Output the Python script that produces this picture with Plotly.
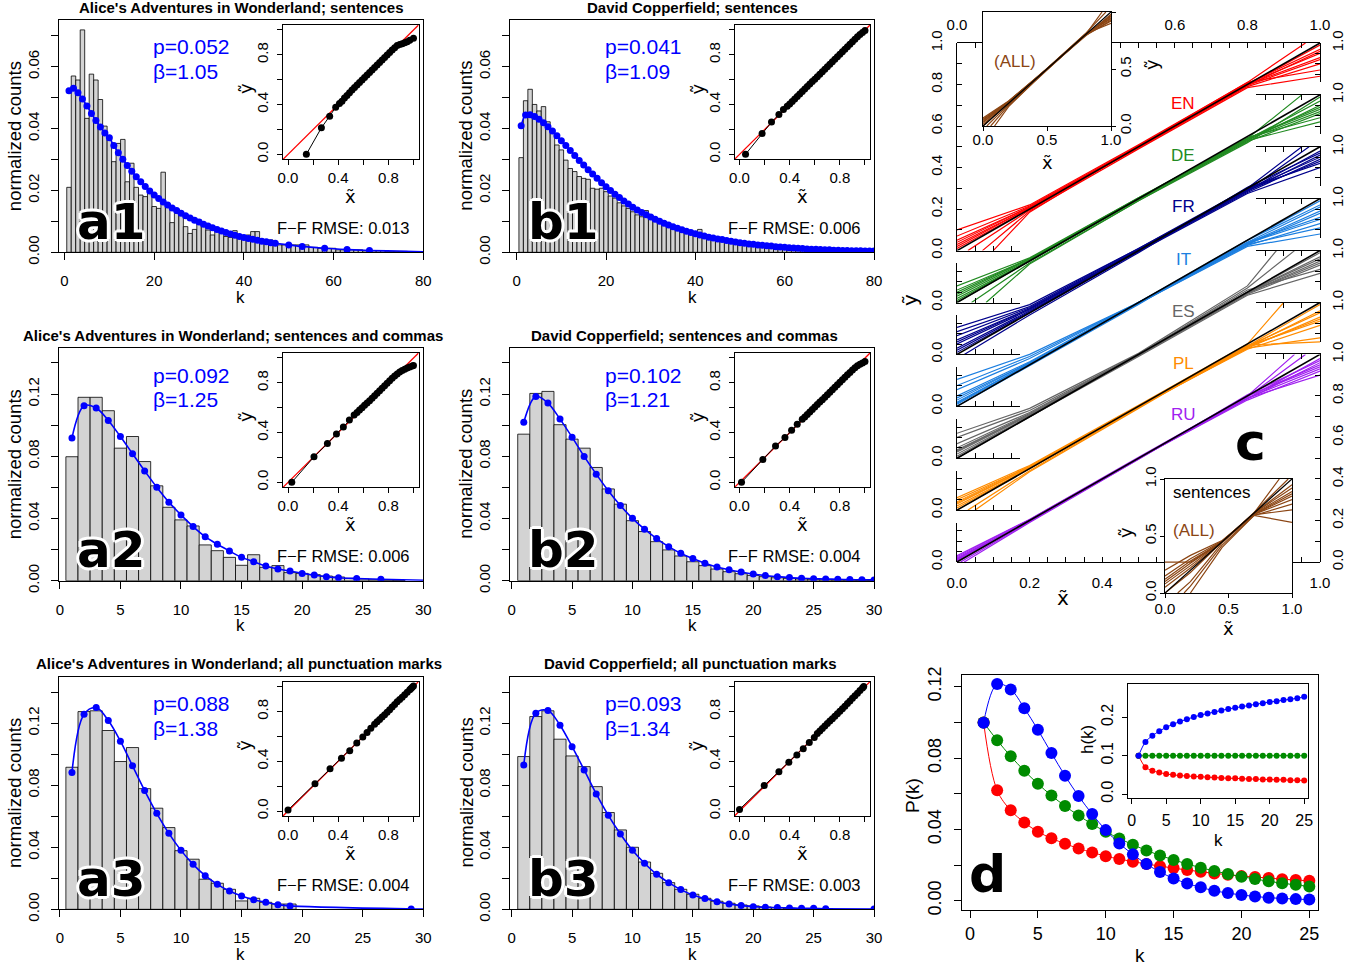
import plotly.graph_objects as go

W, H = 1365, 968
SANS = "Liberation Sans, Arial, Helvetica, sans-serif"
DEJAVU = "DejaVu Sans, sans-serif"

# ====================== DATA ======================
# ---- a1: Alice, sentences ----
A1_K = list(range(1, 81))
A1_COUNTS = [0.021, 0.057, 0.0557, 0.0719, 0.0433, 0.0576, 0.0557, 0.0494, 0.0408, 0.0363,
             0.0293, 0.0352, 0.0365, 0.0228, 0.0288, 0.021, 0.0185, 0.018, 0.019, 0.0148,
             0.0142, 0.0259, 0.0148, 0.0096, 0.0126, 0.0121, 0.0083, 0.0061, 0.0074, 0.0105,
             0.0092, 0.0072, 0.0056, 0.0074, 0.0061, 0.0051, 0.0048, 0.007, 0.0051, 0.0045,
             0.0056, 0.0067, 0.0067, 0.0042, 0.0029, 0.004, 0.0032, 0.0024, 0.0024, 0.0024,
             0.0024, 0.0024, 0.0024, 0.0024, 0.0016, 0.0016, 0.0013, 0.0013, 0.0013, 0.0013,
             0.0008, 0.0008, 0.0008, 0.0008, 0.0008, 0.0008, 0.0005, 0.0005, 0.0005, 0.0005,
             0.0005, 0.0003, 0.0003, 0.0003, 0.0003, 0.0003, 0.0002, 0.0002, 0.0002, 0.0002]
A1_FIT_K = list(range(1, 48)) + [50, 53, 58, 63, 68]
A1_FIT_P = [0.0522, 0.0530, 0.0516, 0.0496, 0.0473, 0.0449, 0.0426, 0.0405, 0.0386, 0.0370,
            0.0345, 0.0322, 0.0301, 0.0281, 0.0262, 0.0244, 0.0228, 0.0213, 0.0198, 0.0185,
            0.0174, 0.0163, 0.0153, 0.0143, 0.0135, 0.0126, 0.0118, 0.0111, 0.0104, 0.0098,
            0.0091, 0.0085, 0.0079, 0.0074, 0.0069, 0.0064, 0.0059, 0.0055, 0.0051, 0.0048,
            0.0045, 0.0042, 0.0039, 0.0036, 0.0034, 0.0031, 0.0029,
            0.0024, 0.0019, 0.0013, 0.0009, 0.0006]
A1_TAIL_K = [74, 80]
A1_TAIL_P = [0.0004, 0.0002]
A1_QQ_X = [0.146, 0.266, 0.332, 0.38, 0.41, 0.43, 0.45, 0.47, 0.49, 0.51, 0.53, 0.55, 0.57, 0.59,
           0.61, 0.63, 0.65, 0.67, 0.69, 0.71, 0.73, 0.75, 0.77, 0.79, 0.81, 0.83, 0.85, 0.87,
           0.89, 0.91, 0.93, 0.95, 0.97, 1.0]
A1_QQ_Y = [0.0, 0.213, 0.307, 0.379, 0.408, 0.427, 0.452, 0.474, 0.496, 0.517, 0.537, 0.557,
           0.578, 0.598, 0.618, 0.638, 0.658, 0.678, 0.698, 0.718, 0.738, 0.758, 0.778, 0.798,
           0.818, 0.838, 0.857, 0.875, 0.884, 0.89, 0.897, 0.906, 0.917, 0.933]

# ---- b1: Copperfield, sentences ----
B1_K = list(range(1, 81))
B1_COUNTS = [0.0306, 0.049, 0.0527, 0.0478, 0.0457, 0.0471, 0.0422, 0.0385, 0.0347, 0.0331,
             0.0298, 0.0271, 0.0261, 0.0245, 0.0239, 0.0236, 0.0207, 0.0204, 0.0207, 0.0196,
             0.0182, 0.0175, 0.016, 0.015, 0.0142, 0.0131, 0.0121, 0.0115, 0.0135, 0.0107,
             0.01, 0.0095, 0.009, 0.0085, 0.0082, 0.0077, 0.0072, 0.0068, 0.0064, 0.0062,
             0.0074, 0.0058, 0.0052, 0.0048, 0.0046, 0.0043, 0.004, 0.0037, 0.0034, 0.0032,
             0.003, 0.0028, 0.0027, 0.0025, 0.0023, 0.0022, 0.002, 0.0019, 0.0017, 0.0016,
             0.0015, 0.0014, 0.0013, 0.0012, 0.0011, 0.0011, 0.001, 0.0009, 0.0009, 0.0008,
             0.0007, 0.0007, 0.0006, 0.0006, 0.0005, 0.0005, 0.0004, 0.0004, 0.0004, 0.0003]
B1_FIT_K = list(range(1, 81))
B1_FIT_P = [0.0409, 0.0444, 0.0445, 0.0439, 0.0430, 0.0419, 0.0406, 0.0392, 0.0377, 0.0361,
            0.0345, 0.0329, 0.0313, 0.0297, 0.0282, 0.0267, 0.0253, 0.0239, 0.0225, 0.0212,
            0.0200, 0.0188, 0.0177, 0.0166, 0.0156, 0.0146, 0.0137, 0.0129, 0.0121, 0.0114,
            0.0107, 0.0100, 0.0094, 0.0088, 0.0083, 0.0078, 0.0073, 0.0068, 0.0064, 0.0060,
            0.0056, 0.0053, 0.0049, 0.0046, 0.0043, 0.0041, 0.0038, 0.0036, 0.0033, 0.0031,
            0.0029, 0.0027, 0.0026, 0.0024, 0.0023, 0.0021, 0.0020, 0.0018, 0.0017, 0.0016,
            0.0015, 0.0014, 0.0013, 0.0012, 0.0011, 0.0010, 0.0010, 0.0009, 0.0008, 0.0008,
            0.0007, 0.0007, 0.0006, 0.0006, 0.0005, 0.0005, 0.0005, 0.0004, 0.0004, 0.0004]
B1_TAIL_K = []
B1_TAIL_P = []
B1_QQ_X = [0.048, 0.18, 0.255, 0.314, 0.35, 0.38, 0.40, 0.42, 0.44, 0.46, 0.48, 0.50, 0.52, 0.54,
           0.56, 0.58, 0.60, 0.62, 0.64, 0.66, 0.68, 0.70, 0.72, 0.74, 0.76, 0.78, 0.80, 0.82,
           0.84, 0.86, 0.88, 0.90, 0.92, 0.94, 0.96, 0.98, 1.0]
B1_QQ_Y = [0.0, 0.168, 0.259, 0.32, 0.36, 0.387, 0.405, 0.425, 0.445, 0.465, 0.485, 0.505, 0.525,
           0.545, 0.565, 0.585, 0.604, 0.624, 0.644, 0.664, 0.684, 0.704, 0.724, 0.744, 0.764,
           0.784, 0.804, 0.824, 0.845, 0.865, 0.885, 0.905, 0.925, 0.945, 0.963, 0.98, 0.995]

# ---- a2: Alice, sentences and commas ----
A2_K = list(range(1, 29))
A2_COUNTS = [0.0797, 0.1179, 0.1179, 0.1093, 0.0852, 0.0927, 0.0766, 0.061, 0.0472, 0.0391,
             0.0352, 0.023, 0.0193, 0.015, 0.0099, 0.0167, 0.0086, 0.0097, 0.0052, 0.0047,
             0.0039, 0.003, 0.0024, 0.0015, 0.0011, 0.0006, 0.0004, 0.0002]
A2_FIT_K = list(range(1, 24)) + [24.5, 26.5]
A2_FIT_P = [0.0917, 0.1125, 0.111, 0.103, 0.0927, 0.0816, 0.0706, 0.0601, 0.0505, 0.0423,
            0.0348, 0.0283, 0.0234, 0.0191, 0.015, 0.0122, 0.0094, 0.0075, 0.0062, 0.0047,
            0.0036, 0.0026, 0.0019, 0.0014, 0.0009]
A2_TAIL_K = [30]
A2_TAIL_P = [0.0003]
A2_QQ_X = [0.03, 0.207, 0.314, 0.386, 0.441, 0.489, 0.527, 0.55, 0.57, 0.59, 0.61, 0.63, 0.65,
           0.67, 0.69, 0.71, 0.73, 0.75, 0.77, 0.79, 0.81, 0.83, 0.85, 0.87, 0.89, 0.91, 0.93,
           0.95, 0.97, 0.99, 1.0]
A2_QQ_Y = [0.0, 0.205, 0.312, 0.389, 0.445, 0.501, 0.541, 0.562, 0.581, 0.6, 0.619, 0.638, 0.657,
           0.677, 0.697, 0.717, 0.737, 0.757, 0.777, 0.797, 0.817, 0.837, 0.856, 0.872, 0.887,
           0.9, 0.91, 0.92, 0.928, 0.935, 0.939]

# ---- b2: Copperfield, sentences and commas ----
B2_K = list(range(1, 31))
B2_COUNTS = [0.0942, 0.1204, 0.1217, 0.1003, 0.091, 0.0852, 0.0728, 0.059, 0.0492, 0.0386,
             0.0316, 0.0251, 0.0198, 0.0159, 0.0122, 0.0097, 0.0075, 0.0058, 0.0045, 0.0034,
             0.0026, 0.0019, 0.0015, 0.0011, 0.0009, 0.0006, 0.0004, 0.0003, 0.0002, 0.0001]
B2_FIT_K = list(range(1, 31))
B2_FIT_P = [0.1018, 0.1185, 0.1142, 0.1039, 0.0923, 0.0799, 0.0685, 0.0578, 0.0483, 0.0401,
            0.0331, 0.0271, 0.0219, 0.0176, 0.0142, 0.0112, 0.0088, 0.0071, 0.0056, 0.0043,
            0.0033, 0.0026, 0.002, 0.0016, 0.0013, 0.0011, 0.0009, 0.0007, 0.0006, 0.0005]
B2_TAIL_K = []
B2_TAIL_P = []
B2_QQ_X = [0.016, 0.186, 0.287, 0.362, 0.415, 0.46, 0.5, 0.52, 0.54, 0.56, 0.58, 0.60, 0.62, 0.64,
           0.66, 0.68, 0.70, 0.72, 0.74, 0.76, 0.78, 0.80, 0.82, 0.84, 0.86, 0.88, 0.90, 0.92,
           0.94, 0.96, 0.98, 1.0]
B2_QQ_Y = [0.0, 0.184, 0.293, 0.36, 0.419, 0.467, 0.507, 0.525, 0.545, 0.565, 0.585, 0.605,
           0.625, 0.645, 0.665, 0.685, 0.705, 0.725, 0.745, 0.765, 0.785, 0.805, 0.825, 0.845,
           0.865, 0.884, 0.903, 0.921, 0.938, 0.95, 0.96, 0.971]

# ---- a3: Alice, all punctuation marks ----
A3_K = list(range(1, 20))
A3_COUNTS = [0.0916, 0.1275, 0.128, 0.1153, 0.0953, 0.1043, 0.0778, 0.0652, 0.0527, 0.0378,
             0.0323, 0.0194, 0.0168, 0.0129, 0.0054, 0.0071, 0.0045, 0.0034, 0.0034]
A3_FIT_K = list(range(1, 20)) + [29]
A3_FIT_P = [0.0882, 0.1258, 0.1301, 0.1217, 0.1084, 0.0925, 0.0766, 0.0619, 0.049, 0.038,
            0.029, 0.0217, 0.0161, 0.0118, 0.0086, 0.0062, 0.0045, 0.003, 0.0022, 0.0002]
A3_TAIL_K = [30]
A3_TAIL_P = [0.0001]
A3_QQ_X = [0.0, 0.215, 0.335, 0.426, 0.492, 0.548, 0.596, 0.63, 0.66, 0.69, 0.71, 0.73, 0.75,
           0.77, 0.79, 0.81, 0.83, 0.85, 0.87, 0.89, 0.91, 0.93, 0.95, 0.97, 0.98, 0.99, 1.0]
A3_QQ_Y = [0.008, 0.219, 0.339, 0.424, 0.485, 0.547, 0.595, 0.632, 0.665, 0.697, 0.718, 0.737,
           0.756, 0.775, 0.794, 0.815, 0.836, 0.857, 0.878, 0.897, 0.915, 0.935, 0.955, 0.975,
           0.985, 0.995, 1.005]

# ---- b3: Copperfield, all punctuation marks ----
B3_K = list(range(1, 26))
B3_COUNTS = [0.0985, 0.1243, 0.128, 0.1097, 0.0989, 0.092, 0.0791, 0.0624, 0.0512, 0.04,
             0.0305, 0.0232, 0.0172, 0.0129, 0.0097, 0.0071, 0.0052, 0.0039, 0.0028, 0.0022,
             0.0015, 0.0011, 0.0006, 0.0004, 0.0002]
B3_FIT_K = list(range(1, 27)) + [30]
B3_FIT_P = [0.0931, 0.1265, 0.1282, 0.1187, 0.1049, 0.0899, 0.0744, 0.0606, 0.0486, 0.0381,
            0.0297, 0.0226, 0.0172, 0.0127, 0.0092, 0.0069, 0.0049, 0.0034, 0.0024, 0.0017,
            0.0013, 0.0011, 0.0009, 0.0006, 0.0006, 0.0004, 0.0002]
B3_TAIL_K = []
B3_TAIL_P = []
B3_QQ_X = [0.0, 0.197, 0.314, 0.393, 0.457, 0.508, 0.556, 0.596, 0.62, 0.64, 0.66, 0.68, 0.70,
           0.72, 0.74, 0.76, 0.78, 0.80, 0.82, 0.84, 0.86, 0.88, 0.90, 0.92, 0.94, 0.96, 0.98, 0.99]
B3_QQ_Y = [0.013, 0.205, 0.315, 0.392, 0.451, 0.501, 0.552, 0.592, 0.623, 0.643, 0.663, 0.683,
           0.703, 0.723, 0.743, 0.763, 0.783, 0.803, 0.823, 0.843, 0.864, 0.885, 0.906, 0.927,
           0.948, 0.969, 0.99, 1.002]

QQ_REF = [-0.05, 1.05]

# ---- panel c: F-F curves per language (start point, y at MID_X, end point) ----
MID_X = [0.2, 0.5, 0.8]
LANG_NAMES = ["EN", "DE", "FR", "IT", "ES", "PL", "RU"]
LANG_COLORS = ["#FF0000", "#228B22", "#00008B", "#1C7FE0", "#666666", "#FF8C00", "#A020F0"]
EN_START = [(0, 0.10), (0, 0.07), (0, 0.05), (0, 0.03), (0, 0.01), (0.03, 0), (0.07, 0), (0.10, 0),
            (0, 0.04), (0, 0.02)]
EN_MID = [(0.22, 0.51, 0.81), (0.215, 0.505, 0.80), (0.21, 0.50, 0.795), (0.205, 0.50, 0.80),
          (0.20, 0.495, 0.79), (0.195, 0.50, 0.805), (0.19, 0.49, 0.785), (0.185, 0.505, 0.81),
          (0.21, 0.505, 0.805), (0.205, 0.495, 0.795)]
EN_END = [(0.96, 1.0), (1, 0.99), (1, 0.96), (1, 0.93), (1, 0.90), (1, 0.97), (1, 0.84), (1, 0.87),
          (1, 0.95), (1, 0.92)]
DE_START = [(0, 0.08), (0, 0.06), (0, 0.05), (0, 0.03), (0, 0.02), (0, 0.01), (0.04, 0), (0.08, 0),
            (0, 0.04), (0, 0.0)]
DE_MID = [(0.215, 0.505, 0.79), (0.21, 0.50, 0.785), (0.21, 0.50, 0.78), (0.205, 0.50, 0.79),
          (0.20, 0.495, 0.775), (0.20, 0.50, 0.795), (0.19, 0.49, 0.78), (0.185, 0.49, 0.77),
          (0.21, 0.505, 0.785), (0.20, 0.50, 0.79)]
DE_END = [(0.95, 1.0), (1, 0.97), (1, 0.95), (1, 0.93), (1, 0.91), (1, 0.89), (1, 0.87), (1, 0.99),
          (1, 0.92), (1, 0.94)]
FR_START = [(0, 0.13), (0, 0.11), (0, 0.09), (0, 0.07), (0, 0.05), (0, 0.03), (0, 0.01), (0.02, 0),
            (0, 0.06), (0, 0.02)]
FR_MID = [(0.24, 0.51, 0.80), (0.23, 0.51, 0.79), (0.225, 0.505, 0.79), (0.22, 0.50, 0.785),
          (0.215, 0.50, 0.78), (0.21, 0.495, 0.80), (0.20, 0.495, 0.775), (0.19, 0.49, 0.805),
          (0.22, 0.505, 0.795), (0.205, 0.50, 0.79)]
FR_END = [(0.95, 1.0), (0.97, 1.0), (1, 0.98), (1, 0.96), (1, 0.94), (1, 0.92), (1, 0.90), (1, 0.97),
          (1, 0.95), (1, 0.93)]
IT_START = [(0, 0.13), (0, 0.10), (0, 0.08), (0, 0.05), (0, 0.03), (0, 0.02), (0, 0.01), (0, 0.0),
            (0, 0.04), (0, 0.015)]
IT_MID = [(0.25, 0.50, 0.80), (0.24, 0.50, 0.79), (0.23, 0.50, 0.78), (0.215, 0.50, 0.785),
          (0.21, 0.495, 0.775), (0.205, 0.50, 0.78), (0.20, 0.495, 0.77), (0.195, 0.49, 0.80),
          (0.21, 0.50, 0.79), (0.205, 0.495, 0.785)]
IT_END = [(1, 0.99), (1, 0.96), (1, 0.93), (1, 0.90), (1, 0.88), (1, 0.86), (1, 0.83), (1, 0.97),
          (1, 0.91), (1, 0.94)]
ES_START = [(0, 0.12), (0, 0.10), (0, 0.07), (0, 0.05), (0, 0.04), (0, 0.03), (0, 0.02), (0, 0.01),
            (0, 0.035), (0, 0.0)]
ES_MID = [(0.24, 0.505, 0.83), (0.23, 0.50, 0.82), (0.22, 0.50, 0.80), (0.215, 0.50, 0.80),
          (0.21, 0.495, 0.795), (0.205, 0.495, 0.79), (0.20, 0.50, 0.81), (0.20, 0.49, 0.785),
          (0.21, 0.50, 0.80), (0.20, 0.50, 0.795)]
ES_END = [(0.88, 1.0), (0.93, 1.0), (1, 0.99), (1, 0.97), (1, 0.95), (1, 0.93), (1, 0.91), (1, 0.89),
          (1, 0.96), (1, 0.94)]
PL_START = [(0, 0.06), (0, 0.05), (0, 0.04), (0, 0.03), (0, 0.02), (0, 0.01), (0.03, 0), (0.05, 0),
            (0, 0.035), (0, 0.0)]
PL_MID = [(0.215, 0.505, 0.80), (0.21, 0.50, 0.79), (0.21, 0.50, 0.785), (0.205, 0.50, 0.78),
          (0.20, 0.495, 0.79), (0.20, 0.50, 0.775), (0.19, 0.495, 0.78), (0.185, 0.49, 0.795),
          (0.205, 0.50, 0.79), (0.20, 0.50, 0.785)]
PL_END = [(0.90, 1.0), (1, 0.99), (1, 0.96), (1, 0.93), (1, 0.91), (1, 0.89), (1, 0.83), (1, 0.81),
          (1, 0.95), (1, 0.92)]
RU_START = [(0, 0.03), (0, 0.02), (0, 0.015), (0, 0.01), (0, 0.005), (0, 0.0), (0.01, 0), (0.02, 0),
            (0, 0.025), (0, 0.012)]
RU_MID = [(0.205, 0.50, 0.80), (0.20, 0.50, 0.795), (0.20, 0.50, 0.79), (0.20, 0.50, 0.785),
          (0.195, 0.495, 0.80), (0.20, 0.50, 0.78), (0.195, 0.50, 0.79), (0.19, 0.495, 0.805),
          (0.205, 0.505, 0.80), (0.20, 0.50, 0.79)]
RU_END = [(0.93, 1.0), (0.96, 1.0), (1, 0.98), (1, 0.96), (1, 0.94), (1, 0.92), (1, 0.90), (1, 0.97),
          (1, 0.95), (1, 0.93)]

ALL_COLOR = "#8B4513"
ALL_START = [(0, 0.07), (0, 0.05), (0, 0.03), (0, 0.015), (0, 0.0), (0.03, 0), (0.06, 0), (0.09, 0),
             (0, 0.06), (0, 0.04)]
ALL_MID = [(0.22, 0.50, 0.80), (0.215, 0.505, 0.81), (0.21, 0.50, 0.79), (0.205, 0.495, 0.80),
           (0.20, 0.50, 0.805), (0.19, 0.495, 0.795), (0.18, 0.49, 0.80), (0.17, 0.50, 0.81),
           (0.215, 0.50, 0.80), (0.21, 0.50, 0.795)]
ALL_END = [(0.93, 1.0), (0.96, 1.0), (1, 0.98), (1, 0.96), (1, 0.94), (1, 0.92), (1, 0.97), (1, 0.90),
           (1, 0.95), (1, 0.93)]
SENT_MID_X = [0.2, 0.45, 0.7]
SENT_START = [(0, 0.27), (0, 0.2), (0, 0.15), (0, 0.1), (0, 0.05), (0, 0.0), (0.1, 0), (0.15, 0), (0.2, 0),
              (0, 0.12), (0, 0.08)]
SENT_MID = [(0.27, 0.45, 0.685), (0.33, 0.46, 0.69), (0.30, 0.455, 0.70), (0.26, 0.45, 0.70),
            (0.22, 0.445, 0.705), (0.18, 0.45, 0.70), (0.10, 0.44, 0.69), (0.06, 0.42, 0.68), (0.0, 0.40, 0.68),
            (0.28, 0.45, 0.69), (0.24, 0.45, 0.695)]
SENT_END = [(1, 0.73), (1, 0.87), (1, 0.92), (1, 0.95), (0.97, 1.0), (0.9, 1.0), (1, 0.82), (1, 0.78), (1, 0.62),
            (1, 0.85), (1, 0.89)]

# ---- panel d ----
D_K = list(range(1, 26))
D_BLUE = [0.0998, 0.1215, 0.1185, 0.1080, 0.0959, 0.0828, 0.0701, 0.0587, 0.0486, 0.0396,
          0.0321, 0.0260, 0.0206, 0.0161, 0.0125, 0.0097, 0.0075, 0.0056, 0.0043, 0.0032,
          0.0024, 0.0017, 0.0013, 0.0009, 0.0007]
D_GREEN = [0.1, 0.09, 0.081, 0.0729, 0.0656, 0.059, 0.0531, 0.0478, 0.043, 0.0387,
           0.0349, 0.0314, 0.0282, 0.0254, 0.0229, 0.0206, 0.0185, 0.0167, 0.015, 0.0135,
           0.0122, 0.0109, 0.0098, 0.0089, 0.008]
D_RED = [0.1, 0.0619, 0.0507, 0.0439, 0.0387, 0.035, 0.032, 0.0293, 0.0271, 0.025,
         0.0234, 0.0219, 0.0206, 0.0194, 0.0183, 0.0172, 0.0163, 0.0153, 0.0146, 0.0138,
         0.0133, 0.0127, 0.0121, 0.0116, 0.0112]
D_H_BLUE = [0.1, 0.136, 0.152, 0.164, 0.174, 0.182, 0.189, 0.195, 0.201, 0.206, 0.21, 0.214,
            0.218, 0.222, 0.225, 0.228, 0.231, 0.234, 0.237, 0.24, 0.242, 0.245, 0.247, 0.25, 0.254]
D_H_GREEN = [0.1] * 25
D_H_RED = [0.1, 0.070, 0.061, 0.056, 0.052, 0.050, 0.048, 0.047, 0.046, 0.045, 0.044, 0.043,
           0.042, 0.041, 0.041, 0.040, 0.039, 0.039, 0.038, 0.038, 0.037, 0.037, 0.036, 0.036, 0.035]

# ====================== helpers ======================
fig = go.Figure()
LAYOUT = {}
ANN = []
_n = [0]


def fx(p):
    return p / W


def fy(p):
    return 1 - p / H


def axis(rng, **kw):
    d = dict(range=rng, showgrid=False, zeroline=False, fixedrange=True, showline=True,
             linecolor="black", linewidth=1, ticks="outside", ticklen=6, tickwidth=1,
             tickcolor="black", tickfont=dict(family=SANS, size=15, color="black"),
             tickmode="array", automargin=False)
    d.update(kw)
    return d


def hidden(rng):
    return dict(range=rng, visible=False, fixedrange=True, showgrid=False, zeroline=False,
                automargin=False)


def subplot(x0, x1, y0, y1, xa, ya, axes_only=False):
    _n[0] += 1
    s = "" if _n[0] == 1 else str(_n[0])
    xa = dict(xa)
    ya = dict(ya)
    xa.update(domain=[fx(x0), fx(x1)], anchor="y" + s)
    ya.update(domain=[fy(y1), fy(y0)], anchor="x" + s)
    LAYOUT["xaxis" + s] = xa
    LAYOUT["yaxis" + s] = ya
    if axes_only:
        # empty trace so that plotly draws this axes-only frame
        fig.add_trace(go.Scatter(x=[None], y=[None], xaxis="x" + s, yaxis="y" + s, mode="lines",
                                 showlegend=False, hoverinfo="skip"))
    return "x" + s, "y" + s


def text(x, y, s, size=15, color="black", xanchor="center", yanchor="middle", angle=0,
         family=SANS, shadow=None):
    f = dict(family=family, size=size, color=color)
    if shadow:
        f["shadow"] = shadow
    ANN.append(dict(x=fx(x), y=fy(y), xref="paper", yref="paper", text=s, showarrow=False,
                    xanchor=xanchor, yanchor=yanchor, textangle=angle, font=f))


def line(xr, yr, xs, ys, color, width=1.0, mode="lines", size=6, shape="linear"):
    fig.add_trace(go.Scatter(x=xs, y=ys, xaxis=xr, yaxis=yr, mode=mode,
                             line=dict(color=color, width=width, shape=shape),
                             marker=dict(color=color, size=size),
                             showlegend=False, hoverinfo="skip", cliponaxis=True))


HALO = ", ".join(f"{a}px {b}px 0px white" for a, b in
                 [(2, 0), (-2, 0), (0, 2), (0, -2), (2, 2), (-2, -2), (2, -2), (-2, 2),
                  (3, 0), (-3, 0), (0, 3), (0, -3)])

# ====================== histogram panels ======================
Y1_TV = [0, 0.01, 0.02, 0.03, 0.04, 0.05, 0.06, 0.07]
Y1_TT = ["0.00", "", "0.02", "", "0.04", "", "0.06", ""]
Y2_TV = [0, 0.02, 0.04, 0.06, 0.08, 0.10, 0.12, 0.14]
Y2_TT = ["0.00", "", "0.04", "", "0.08", "", "0.12", ""]
X1_TV = [0, 20, 40, 60, 80]
X2_TV = [0, 5, 10, 15, 20, 25, 30]

PANELS = [
    dict(box=(58.5, 423.3, 20, 252.3), title="Alice's Adventures in Wonderland; sentences", tcx=241,
         xr=[-1.34, 80], xt=X1_TV, yr=[0, 0.0751], yt=Y1_TV, ytt=Y1_TT,
         k=A1_K, h=A1_COUNTS, fk=A1_FIT_K, fp=A1_FIT_P, tk=A1_TAIL_K, tp=A1_TAIL_P,
         qx=A1_QQ_X, qy=A1_QQ_Y, p="p=0.052", b="β=1.05", rmse="F−F RMSE: 0.013", lab="a1"),
    dict(box=(510, 874, 20, 252.3), title="David Copperfield; sentences", tcx=692,
         xr=[-1.5, 80], xt=X1_TV, yr=[0, 0.0751], yt=Y1_TV, ytt=Y1_TT,
         k=B1_K, h=B1_COUNTS, fk=B1_FIT_K, fp=B1_FIT_P, tk=B1_TAIL_K, tp=B1_TAIL_P,
         qx=B1_QQ_X, qy=B1_QQ_Y, p="p=0.041", b="β=1.09", rmse="F−F RMSE: 0.006", lab="b1"),
    dict(box=(58.5, 423.3, 348, 580.7), title="Alice's Adventures in Wonderland; sentences and commas",
         tcx=233, xr=[-0.11, 30], xt=X2_TV, yr=[0, 0.1496], yt=Y2_TV, ytt=Y2_TT,
         k=A2_K, h=A2_COUNTS, fk=A2_FIT_K, fp=A2_FIT_P, tk=A2_TAIL_K, tp=A2_TAIL_P,
         qx=A2_QQ_X, qy=A2_QQ_Y, p="p=0.092", b="β=1.25", rmse="F−F RMSE: 0.006", lab="a2"),
    dict(box=(510, 874, 348, 580.7), title="David Copperfield; sentences and commas", tcx=684,
         xr=[-0.14, 30], xt=X2_TV, yr=[0, 0.1496], yt=Y2_TV, ytt=Y2_TT,
         k=B2_K, h=B2_COUNTS, fk=B2_FIT_K, fp=B2_FIT_P, tk=B2_TAIL_K, tp=B2_TAIL_P,
         qx=B2_QQ_X, qy=B2_QQ_Y, p="p=0.102", b="β=1.21", rmse="F−F RMSE: 0.004", lab="b2"),
    dict(box=(58.5, 423.3, 676.7, 909.3), title="Alice's Adventures in Wonderland; all punctuation marks",
         tcx=239, xr=[-0.11, 30], xt=X2_TV, yr=[0, 0.150], yt=Y2_TV, ytt=Y2_TT,
         k=A3_K, h=A3_COUNTS, fk=A3_FIT_K, fp=A3_FIT_P, tk=A3_TAIL_K, tp=A3_TAIL_P,
         qx=A3_QQ_X, qy=A3_QQ_Y, p="p=0.088", b="β=1.38", rmse="F−F RMSE: 0.004", lab="a3"),
    dict(box=(510, 874, 676.7, 909.3), title="David Copperfield; all punctuation marks", tcx=690,
         xr=[-0.14, 30], xt=X2_TV, yr=[0, 0.150], yt=Y2_TV, ytt=Y2_TT,
         k=B3_K, h=B3_COUNTS, fk=B3_FIT_K, fp=B3_FIT_P, tk=B3_TAIL_K, tp=B3_TAIL_P,
         qx=B3_QQ_X, qy=B3_QQ_Y, p="p=0.093", b="β=1.34", rmse="F−F RMSE: 0.003", lab="b3"),
]

QQ_TV = [0, 0.2, 0.4, 0.6, 0.8, 1.0]
QQ_TT = ["0.0", "", "0.4", "", "0.8", ""]

for P in PANELS:
    L, R, T, B = P["box"]
    xa = axis(P["xr"], mirror=True, tickvals=P["xt"], ticktext=[str(v) for v in P["xt"]],
              ticklen=7, ticklabelstandoff=8)
    ya = axis(P["yr"], mirror=True, tickvals=P["yt"], ticktext=P["ytt"], tickangle=-90,
              ticklen=7, ticklabelstandoff=6)
    xr, yr = subplot(L, R, T, B, xa, ya)
    fig.add_trace(go.Bar(x=P["k"], y=P["h"], width=1, xaxis=xr, yaxis=yr,
                         marker=dict(color="#D3D3D3", line=dict(color="black", width=0.8)),
                         showlegend=False, hoverinfo="skip"))
    line(xr, yr, P["fk"] + P["tk"], P["fp"] + P["tp"], "#0000FF", width=1.6, shape="spline")
    line(xr, yr, P["fk"], P["fp"], "#0000FF", mode="markers", size=7)

    # inset Q-Q plot
    IL, IR, IT, IB = L + 224.5, L + 360, T + 5, T + 139.3
    qxa = axis([-0.04, 1.04], mirror=True, tickvals=QQ_TV, ticktext=QQ_TT, ticklen=5,
               ticklabelstandoff=0)
    qya = axis([-0.04, 1.04], mirror=True, tickvals=QQ_TV, ticktext=QQ_TT, ticklen=5,
               tickangle=-90, ticklabelstandoff=3)
    qx, qy = subplot(IL, IR, IT, IB, qxa, qya)
    line(qx, qy, QQ_REF, QQ_REF, "#FF0000", width=1.3)
    line(qx, qy, P["qx"], P["qy"], "black", width=1, mode="lines+markers", size=7)

    text(P["tcx"], T - 13, "<b>" + P["title"] + "</b>", size=15)
    text(L - 44.5, (T + B) / 2, "normalized counts", size=18.5, angle=-90)
    text((L + R) / 2, B + 45, "k", size=17)
    text(L + 92.5, T + 27, P["p"], size=21, color="#0000FF", xanchor="left")
    text(L + 92.5, T + 52, P["b"], size=21, color="#0000FF", xanchor="left")
    text(L + 353, T + 208, P["rmse"], size=16.5, xanchor="right")
    text(L + 16, T + 202, "<b>" + P["lab"] + "</b>", size=50, family=DEJAVU, xanchor="left",
         shadow=HALO)
    text(IL - 38, IT + 64, "ỹ", size=18, angle=-90, family=DEJAVU)
    text((IL + IR) / 2, IB + 37, "x\u0303", size=18, family=DEJAVU)

# ====================== panel c ======================
C_L, C_R, C_TOP, C_BOT = 957.0, 1320.0, 43.0, 562.0
C_SCALE = (C_BOT - C_TOP) / 2.5
C_STEP = 0.25


def c_pix(v):
    return C_TOP + (1.0 - v) * C_SCALE


LANG_DATA = [(EN_START, EN_MID, EN_END), (DE_START, DE_MID, DE_END), (FR_START, FR_MID, FR_END),
             (IT_START, IT_MID, IT_END), (ES_START, ES_MID, ES_END), (PL_START, PL_MID, PL_END),
             (RU_START, RU_MID, RU_END)]

TICK_IN = dict(ticks="inside", ticklen=5)
FULL_TV = [0, 0.1, 0.2, 0.3, 0.4, 0.5, 0.6, 0.7, 0.8, 0.9, 1.0]
FULL_TT = ["0.0", "", "0.2", "", "0.4", "", "0.6", "", "0.8", "", "1.0"]

for i, name in enumerate(LANG_NAMES):
    color = LANG_COLORS[i]
    start, mid, end = LANG_DATA[i]
    y0 = c_pix(-C_STEP * i)
    y1 = c_pix(1 - C_STEP * i)
    xr, yr = subplot(C_L, C_R, y1, y0, hidden([0, 1]), hidden([0, 1]))
    for s, m, e in zip(start, mid, end):
        line(xr, yr, [s[0]] + MID_X + [e[0]], [s[1]] + list(m) + [e[1]], color, width=1.2)
    line(xr, yr, [0, 1], [0, 1], "black", width=1.6)
    text(1183, 103 + 52 * i, name, size=17, color=color)

    # left small axes
    hL = C_SCALE if i == 0 else 0.19 * C_SCALE
    if i < 6:
        lxa = axis([0, 63 / 363], tickvals=[0.05, 0.1, 0.15], ticktext=["", "", ""], **TICK_IN)
    else:
        lxa = hidden([0, 1])
    if i == 0:
        lya = axis([0, 1], tickvals=FULL_TV, ticktext=FULL_TT, tickangle=-90,
                   ticklabelstandoff=8, **TICK_IN)
    else:
        lya = axis([0, 0.19], tickvals=[0, 0.05, 0.1, 0.15], ticktext=["0.0", "", "", ""],
                   tickangle=-90, ticklabelstandoff=8, **TICK_IN)
    subplot(C_L, C_L + 63, y0 - hL, y0, lxa, lya, axes_only=True)

    # right small axes
    hR = C_SCALE if i == 6 else 0.19 * C_SCALE
    if i == 0:
        rxa = hidden([0, 1])
    else:
        rxa = axis([1 - 64 / 363, 1], side="top", tickvals=[0.85, 0.9, 0.95], ticktext=["", "", ""],
                   **TICK_IN)
    if i == 6:
        rya = axis([0, 1], side="right", tickvals=FULL_TV, ticktext=FULL_TT, tickangle=-90,
                   ticklabelstandoff=4, **TICK_IN)
    else:
        rya = axis([0.81, 1], side="right", tickvals=[0.85, 0.9, 0.95, 1.0],
                   ticktext=["", "", "", "1.0"], tickangle=-90, ticklabelstandoff=4, **TICK_IN)
    subplot(C_R - 64, C_R, y1, y1 + hR, rxa, rya, axes_only=True)

# bottom axis (split around the lower inset) and top axis (split around upper inset)
subplot(C_L, 1165, C_TOP, C_BOT,
        axis([0, 208 / 363], tickvals=[0, 0.05, 0.1, 0.15, 0.2, 0.25, 0.3, 0.35, 0.4, 0.45, 0.5, 0.55],
             ticktext=["0.0", "", "", "", "0.2", "", "", "", "0.4", "", "", ""],
             ticklabelstandoff=7, **TICK_IN), hidden([0, 1]), axes_only=True)
subplot(1292, C_R, C_TOP, C_BOT,
        axis([335 / 363, 1], tickvals=[0.95, 1.0], ticktext=["", "1.0"], ticklabelstandoff=7,
             **TICK_IN), hidden([0, 1]), axes_only=True)
subplot(C_L, 983, C_TOP, C_BOT,
        axis([0, 26 / 363], side="top", tickvals=[0, 0.05], ticktext=["0.0", ""],
             ticklabelstandoff=6, **TICK_IN), hidden([0, 1]), axes_only=True)
subplot(1111, C_R, C_TOP, C_BOT,
        axis([154 / 363, 1], side="top",
             tickvals=[0.45, 0.5, 0.55, 0.6, 0.65, 0.7, 0.75, 0.8, 0.85, 0.9, 0.95, 1.0],
             ticktext=["", "", "", "0.6", "", "", "", "0.8", "", "", "", "1.0"],
             ticklabelstandoff=6, **TICK_IN), hidden([0, 1]), axes_only=True)

INS_TV = [0, 0.5, 1.0]
INS_TT = ["0.0", "0.5", "1.0"]
# upper inset (ALL)
xr, yr = subplot(983, 1111, 12, 126,
                 axis([0, 1], mirror=True, tickvals=INS_TV, ticktext=INS_TT, ticklen=4,
                      ticklabelstandoff=-4),
                 axis([0, 1], side="right", mirror=True, tickvals=INS_TV, ticktext=INS_TT,
                      ticklen=4, tickangle=-90, ticklabelstandoff=-3))
for s, m, e in zip(ALL_START, ALL_MID, ALL_END):
    line(xr, yr, [s[0]] + MID_X + [e[0]], [s[1]] + list(m) + [e[1]], ALL_COLOR, width=1.2)
line(xr, yr, [0, 1], [0, 1], "black", width=1.3)
text(1015, 62, "(ALL)", size=17, color=ALL_COLOR)
text(1152, 65, "ỹ", size=18, angle=-90, family=DEJAVU)
text(1047, 162, "x\u0303", size=18, family=DEJAVU)

# lower inset (sentences, ALL)
xr, yr = subplot(1165, 1292, 479, 593,
                 axis([0, 1], mirror=True, tickvals=INS_TV, ticktext=INS_TT, ticklen=4,
                      ticklabelstandoff=-2),
                 axis([0, 1], mirror=True, tickvals=INS_TV, ticktext=INS_TT, ticklen=4,
                      tickangle=-90, ticklabelstandoff=-2))
for s, m, e in zip(SENT_START, SENT_MID, SENT_END):
    line(xr, yr, [s[0]] + SENT_MID_X + [e[0]], [s[1]] + list(m) + [e[1]], ALL_COLOR, width=1.2)
line(xr, yr, [0, 1], [0, 1], "black", width=1.3)
text(1171, 492, "sentences", size=17, xanchor="left")
text(1194, 530, "(ALL)", size=17, color=ALL_COLOR)
text(1125, 533, "ỹ", size=18, angle=-90, family=DEJAVU)
text(1228, 628, "x\u0303", size=18, family=DEJAVU)

text(910, 300, "ỹ", size=20, angle=-90, family=DEJAVU)
text(1063, 598, "x\u0303", size=20, family=DEJAVU)
text(1250, 442, "<b>c</b>", size=52, family=DEJAVU)

# ====================== panel d ======================
dxa = axis([-0.59, 25.64], mirror=True, tickvals=[0, 5, 10, 15, 20, 25],
           ticktext=["0", "5", "10", "15", "20", "25"], ticklen=7, ticklabelstandoff=0,
           tickfont=dict(family=SANS, size=18, color="black"))
dya = axis([-0.0052, 0.1266], mirror=True, tickvals=[0, 0.02, 0.04, 0.06, 0.08, 0.10, 0.12],
           ticktext=["0.00", "", "0.04", "", "0.08", "", "0.12"], tickangle=-90, ticklen=7,
           ticklabelstandoff=6, tickfont=dict(family=SANS, size=18, color="black"))
xr, yr = subplot(962, 1318, 675, 910, dxa, dya)
line(xr, yr, D_K, D_RED, "#FF0000", width=1, mode="lines+markers", size=12, shape="spline")
line(xr, yr, D_K, D_GREEN, "#008B00", width=1, mode="lines+markers", size=12, shape="spline")
line(xr, yr, D_K, D_BLUE, "#0000FF", width=1, mode="lines+markers", size=12, shape="spline")
text(912, 795, "P(k)", size=19, angle=-90)
text(1140, 955, "k", size=19)
text(987, 874, "<b>d</b>", size=52, family=DEJAVU)

ixa = axis([-0.53, 25.55], mirror=True, tickvals=[0, 5, 10, 15, 20, 25],
           ticktext=["0", "5", "10", "15", "20", "25"], ticklen=5, ticklabelstandoff=3,
           tickfont=dict(family=SANS, size=16, color="black"))
iya = axis([-0.0104, 0.287], mirror=True, tickvals=[0, 0.1, 0.2], ticktext=["0.0", "0.1", "0.2"],
           tickangle=-90, ticklen=5, ticklabelstandoff=3,
           tickfont=dict(family=SANS, size=16, color="black"))
xr, yr = subplot(1128, 1308, 684, 798, ixa, iya)
line(xr, yr, D_K, D_H_RED, "#FF0000", width=1, mode="lines+markers", size=6, shape="spline")
line(xr, yr, D_K, D_H_GREEN, "#008B00", width=1, mode="lines+markers", size=6, shape="spline")
line(xr, yr, D_K, D_H_BLUE, "#0000FF", width=1, mode="lines+markers", size=6, shape="spline")
text(1087, 740, "h(k)", size=17, angle=-90)
text(1218, 840, "k", size=17)

fig.update_layout(template="none", width=W, height=H,
                  margin=dict(l=0, r=0, t=0, b=0, pad=0, autoexpand=False),
                  plot_bgcolor="rgba(0,0,0,0)", paper_bgcolor="white", showlegend=False,
                  annotations=ANN, bargap=0, **LAYOUT)
fig.write_html("out.html", config={"displayModeBar": False, "staticPlot": True},
               post_script="document.body.style.margin='0';document.body.style.overflow='hidden';")
